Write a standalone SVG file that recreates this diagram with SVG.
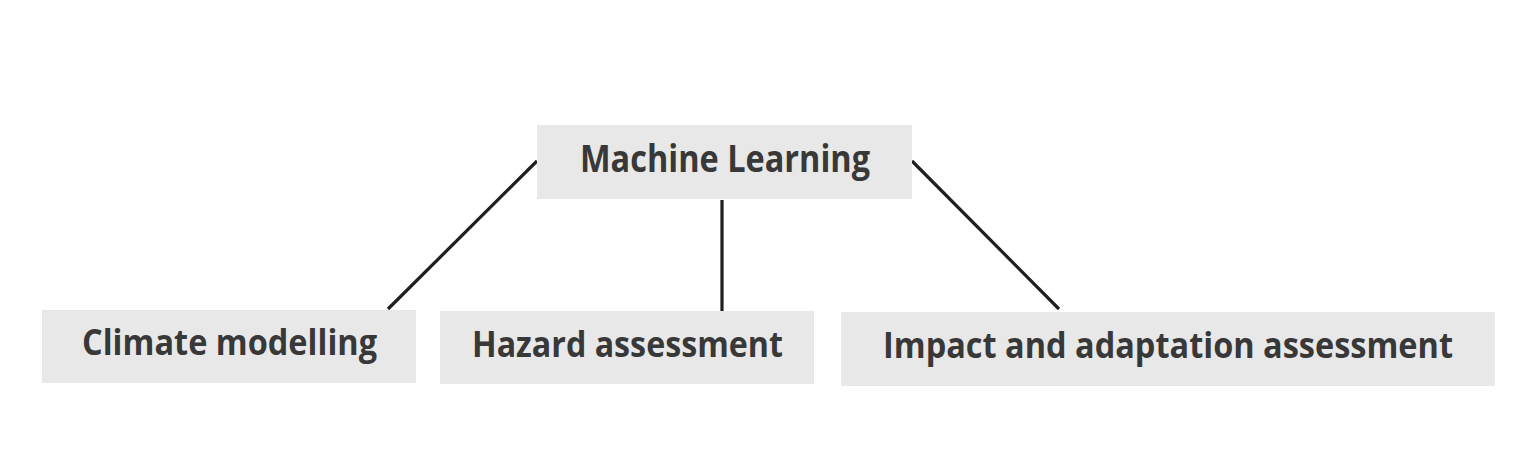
<svg xmlns="http://www.w3.org/2000/svg" width="1536" height="450" viewBox="0 0 1536 450">
<style>
.box{fill:#e8e8e8}
.lbl{font-family:"Open Sans","Liberation Sans",sans-serif;font-weight:700;fill:#383838;font-size:36px}
.edge{stroke:#1f1f1f;stroke-width:3.2;fill:none;stroke-linecap:butt}
</style>
<rect width="1536" height="450" fill="#ffffff"/>
<g id="connectors">
<line class="edge" x1="537" y1="161" x2="388" y2="309"/>
<line class="edge" x1="722" y1="200" x2="722" y2="311"/>
<line class="edge" x1="912" y1="161" x2="1059" y2="309"/>
</g>
<g id="machine-learning">
<rect class="box" x="537" y="125" width="375" height="74"/>
<text class="lbl" x="580" y="172" style="font-size:38px" textLength="290" lengthAdjust="spacingAndGlyphs">Machine Learning</text>
</g>
<g id="climate-modelling">
<rect class="box" x="42" y="310" width="374" height="73"/>
<text class="lbl" x="82" y="355" textLength="295" lengthAdjust="spacingAndGlyphs">Climate modelling</text>
</g>
<g id="hazard-assessment">
<rect class="box" x="440" y="311" width="374" height="73"/>
<text class="lbl" x="472" y="357" textLength="311" lengthAdjust="spacingAndGlyphs">Hazard assessment</text>
</g>
<g id="impact-adaptation">
<rect class="box" x="841" y="312" width="654" height="74"/>
<text class="lbl" x="883" y="358" textLength="570" lengthAdjust="spacingAndGlyphs">Impact and adaptation assessment</text>
</g>
</svg>
